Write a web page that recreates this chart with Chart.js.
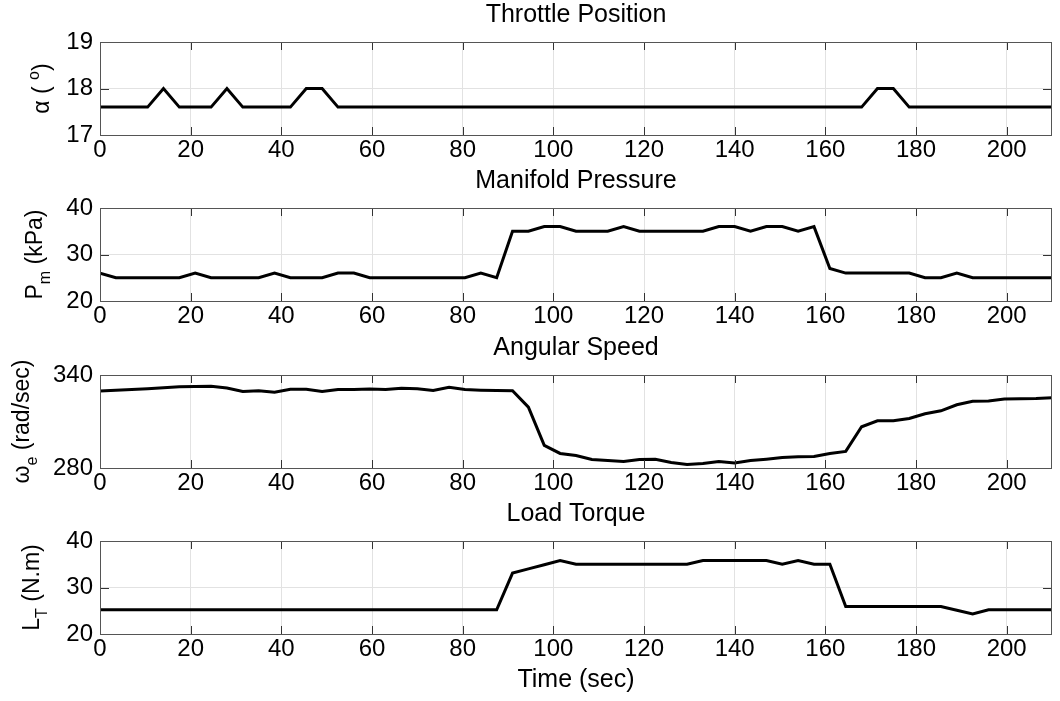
<!DOCTYPE html>
<html>
<head>
<meta charset="utf-8">
<script src="https://cdn.jsdelivr.net/npm/chart.js@4.4.1/dist/chart.umd.min.js"></script>
<style>
  body { margin: 0; background: #fff; }
  #wrap { position: relative; width: 1060px; height: 701px; overflow: hidden; background: #fff; }
  #wrap canvas { position: absolute; left: 0; }
</style>
</head>
<body>
<div id="wrap">
  <canvas id="throttle" width="1060" height="166" style="top:0px"></canvas>
  <canvas id="manifold" width="1060" height="166" style="top:166px"></canvas>
  <canvas id="speed" width="1060" height="166" style="top:333px"></canvas>
  <canvas id="torque" width="1060" height="202" style="top:499px"></canvas>
</div>
<script>
// sample times (sec)
const timeSec = [0, 3.5, 7, 10.5, 14, 17.5, 21, 24.5, 28, 31.5, 35, 38.5, 42, 45.5, 49, 52.5,
  56, 59.5, 63, 66.5, 70, 73.5, 77, 80.5, 84, 87.5, 91, 94.5, 98, 101.5, 105, 108.5,
  112, 115.5, 119, 122.5, 126, 129.5, 133, 136.5, 140, 143.5, 147, 150.5, 154, 157.5,
  161, 164.5, 168, 171.5, 175, 178.5, 182, 185.5, 189, 192.5, 196, 199.5, 203, 206.5, 210];

// throttle angle (deg)
const throttleDeg = [17.6, 17.6, 17.6, 17.6, 18, 17.6, 17.6, 17.6, 18, 17.6, 17.6, 17.6, 17.6, 18, 18, 17.6,
  17.6, 17.6, 17.6, 17.6, 17.6, 17.6, 17.6, 17.6, 17.6, 17.6, 17.6, 17.6, 17.6, 17.6, 17.6, 17.6,
  17.6, 17.6, 17.6, 17.6, 17.6, 17.6, 17.6, 17.6, 17.6, 17.6, 17.6, 17.6, 17.6, 17.6,
  17.6, 17.6, 17.6, 18, 18, 17.6, 17.6, 17.6, 17.6, 17.6, 17.6, 17.6, 17.6, 17.6, 17.6];

// manifold pressure (kPa)
const manifoldKpa = [26, 25, 25, 25, 25, 25, 26, 25, 25, 25, 25, 26, 25, 25, 25, 26,
  26, 25, 25, 25, 25, 25, 25, 25, 26, 25, 35, 35, 36, 36, 35, 35,
  35, 36, 35, 35, 35, 35, 35, 36, 36, 35, 36, 36, 35, 36,
  27, 26, 26, 26, 26, 26, 25, 25, 26, 25, 25, 25, 25, 25, 25];

// engine speed (rad/sec)
const speedRad = [329.7, 330.2, 330.6, 331.2, 331.8, 332.4, 332.6, 332.8, 331.6, 329.3, 329.8, 328.9, 330.8, 330.8, 329.4, 330.6,
  330.6, 331.0, 330.6, 331.4, 331.2, 330.0, 332.1, 330.6, 330.2, 330.0, 329.9, 319.3, 294.6, 289.4, 288.1, 285.5,
  284.8, 284.2, 285.5, 285.7, 283.6, 282.2, 282.9, 284.2, 283.2, 284.8, 285.7, 286.8, 287.2, 287.4,
  289.4, 290.7, 306.6, 310.5, 310.5, 311.9, 315.0, 316.9, 320.8, 323.0, 323.2, 324.5, 324.7, 324.9, 325.4];

// load torque (N.m)
const torqueNm = [25.2, 25.2, 25.2, 25.2, 25.2, 25.2, 25.2, 25.2, 25.2, 25.2, 25.2, 25.2, 25.2, 25.2, 25.2, 25.2,
  25.2, 25.2, 25.2, 25.2, 25.2, 25.2, 25.2, 25.2, 25.2, 25.2, 33.1, 34.0, 34.9, 35.8, 35.0, 35.0,
  35.0, 35.0, 35.0, 35.0, 35.0, 35.0, 35.8, 35.8, 35.8, 35.8, 35.8, 35.0, 35.8, 35.0,
  35.0, 25.9, 25.9, 25.9, 25.9, 25.9, 25.9, 25.9, 25.1, 24.3, 25.2, 25.2, 25.2, 25.2, 25.2];

const FONT = "'Liberation Sans', Arial, sans-serif";

// y axis labels, drawn by hand because of the sub/superscripts
const yLabels = {
  throttle: { x: 49, parts: [['α ( ', ''], ['o', 'sup'], [')', '']] },
  manifold: { x: 42, parts: [['P', ''], ['m', 'sub'], [' (kPa)', '']] },
  speed:    { x: 29, parts: [['ω', ''], ['e', 'sub'], [' (rad/sec)', '']] },
  torque:   { x: 39, parts: [['L', ''], ['T', 'sub'], [' (N.m)', '']] }
};

// box, inward ticks and y label (matlab look)
const matlabAxes = {
  id: 'matlabAxes',
  afterDraw(chart) {
    const ctx = chart.ctx;
    const a = chart.chartArea;
    const xs = chart.scales.x, ys = chart.scales.y;
    ctx.save();
    ctx.strokeStyle = '#333';
    ctx.lineWidth = 1;
    ctx.beginPath();
    xs.ticks.forEach(t => {
      const px = Math.round(xs.getPixelForValue(t.value)) + 0.5;
      ctx.moveTo(px, a.bottom); ctx.lineTo(px, a.bottom - 8);
      ctx.moveTo(px, a.top); ctx.lineTo(px, a.top + 8);
    });
    ys.ticks.forEach(t => {
      const py = Math.round(ys.getPixelForValue(t.value)) + 0.5;
      ctx.moveTo(a.left, py); ctx.lineTo(a.left + 9, py);
      ctx.moveTo(a.right, py); ctx.lineTo(a.right - 9, py);
    });
    ctx.stroke();
    ctx.strokeStyle = '#555';
    ctx.strokeRect(Math.round(a.left) + 0.5, Math.round(a.top) + 0.5,
      Math.round(a.right - a.left) - 1, Math.round(a.bottom - a.top));
    ctx.restore();

    const lab = yLabels[chart.canvas.id];
    if (!lab) return;
    const big = 'normal 23px ' + FONT, small = 'normal 16px ' + FONT;
    ctx.save();
    ctx.translate(lab.x, (a.top + a.bottom) / 2);
    ctx.rotate(-Math.PI / 2);
    ctx.fillStyle = '#000';
    ctx.textBaseline = 'alphabetic';
    ctx.textAlign = 'left';
    let total = 0;
    lab.parts.forEach(p => { ctx.font = p[1] ? small : big; total += ctx.measureText(p[0]).width; });
    let cx = -total / 2;
    lab.parts.forEach(p => {
      ctx.font = p[1] ? small : big;
      const dy = p[1] === 'sub' ? 8 : p[1] === 'sup' ? -10 : 0;
      ctx.fillText(p[0], cx, dy);
      cx += ctx.measureText(p[0]).width;
    });
    ctx.restore();
  }
};

function makePanel(id, title, values, yMin, yMax, yStep, xTitle, xHeight) {
  return new Chart(document.getElementById(id), {
    type: 'line',
    data: {
      datasets: [{
        data: timeSec.map((t, i) => ({ x: t, y: values[i] })),
        borderColor: '#000',
        borderWidth: 3,
        pointRadius: 0,
        tension: 0,
        fill: false
      }]
    },
    options: {
      responsive: false,
      animation: false,
      layout: { padding: { left: 0, right: 8, top: 0, bottom: 0 } },
      plugins: {
        legend: { display: false },
        tooltip: { enabled: false },
        title: {
          display: true,
          fullSize: false,
          text: title,
          color: '#000',
          font: { family: FONT, size: 25, weight: 'normal' },
          padding: { top: 0, bottom: 12 }
        }
      },
      scales: {
        x: {
          type: 'linear',
          min: 0,
          max: 210,
          afterFit: s => { s.height = xHeight; },
          ticks: {
            stepSize: 20,
            includeBounds: false,
            maxRotation: 0,
            padding: 1,
            color: '#000',
            font: { family: FONT, size: 24 }
          },
          grid: { color: '#e2e2e2', drawTicks: false },
          border: { display: false },
          title: {
            display: !!xTitle,
            text: xTitle || '',
            color: '#000',
            font: { family: FONT, size: 25 },
            padding: { top: 0, bottom: 6 }
          }
        },
        y: {
          min: yMin,
          max: yMax,
          afterFit: s => { s.width = 100; },
          ticks: {
            stepSize: yStep,
            padding: 7,
            color: '#000',
            font: { family: FONT, size: 24 }
          },
          grid: { color: '#e2e2e2', drawTicks: false },
          border: { display: false }
        }
      }
    },
    plugins: [matlabAxes]
  });
}

makePanel('throttle', 'Throttle Position', throttleDeg, 17, 19, 1, null, 31);
makePanel('manifold', 'Manifold Pressure', manifoldKpa, 20, 40, 10, null, 31);
makePanel('speed', 'Angular Speed', speedRad, 280, 340, 60, null, 31);
makePanel('torque', 'Load Torque', torqueNm, 20, 40, 10, 'Time (sec)', 67);
</script>
</body>
</html>
